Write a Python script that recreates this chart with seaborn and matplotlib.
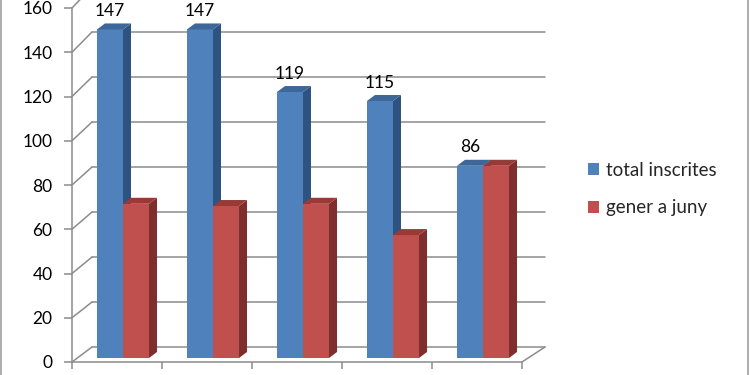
import matplotlib
matplotlib.use("Agg")
import matplotlib.pyplot as plt
from matplotlib.patches import Polygon
from matplotlib.lines import Line2D
import seaborn as sns
import pandas as pd
import numpy as np

# ---- data ----
categories = ["1", "2", "3", "4", "5"]
series_names = ["total inscrites", "gener a juny"]
total_inscrites = [147, 147, 119, 115, 86]
gener_a_juny = [69, 68, 69, 55, 86]
y_ticks = [0, 20, 40, 60, 80, 100, 120, 140, 160]

front_colors = ["#4F81BD", "#C0504D"]
side_colors = ["#2F5381", "#7E2E2C"]
top_colors = ["#3C6798", "#9A3A37"]

df = pd.DataFrame({
    "cat": categories * 2,
    "serie": [series_names[0]] * 5 + [series_names[1]] * 5,
    "val": total_inscrites + gener_a_juny,
})

sns.set_theme(style="white")
plt.rcParams["font.family"] = ["Lato", "DejaVu Sans"]

W, H = 750, 375
fig = plt.figure(figsize=(7.5, 3.75), dpi=100)

def px_rect(left, right, bottom_from_top, height_px):
    b = (H - bottom_from_top) / H
    return [left / W, b, (right - left) / W, height_px / H]

grid_col = "#8C8C8C"
tick_fs = 12.5
leg_fs = 13.5

# back wall grid
ax_back = fig.add_axes(px_rect(92, 545, 347, 160 * 2.25))
ax_back.set_xlim(-0.5, 4.5)
ax_back.set_ylim(0, 160)
for v in y_ticks:
    ax_back.axhline(v, color=grid_col, lw=1.1, clip_on=False)
ax_back.set_xticks([]); ax_back.set_yticks([])
for s in ax_back.spines.values():
    s.set_visible(False)
ax_back.patch.set_alpha(0)

# front axis (ticks & labels)
ax_front = fig.add_axes(px_rect(72, 522, 362, 160 * 2.2125))
ax_front.set_xlim(-0.5, 4.5)
ax_front.set_ylim(0, 160)
ax_front.set_yticks(y_ticks)
ax_front.set_yticklabels([str(v) for v in y_ticks], fontsize=tick_fs, color="black")
ax_front.set_xticks(np.arange(-0.5, 5.0, 1.0))
ax_front.set_xticklabels([])
ax_front.tick_params(axis="y", left=True, length=6, width=1.1, color=grid_col, pad=8)
ax_front.tick_params(axis="x", bottom=True, length=5, width=1.1, color=grid_col)
for side in ["top", "right"]:
    ax_front.spines[side].set_visible(False)
for side in ["left", "bottom"]:
    ax_front.spines[side].set_color(grid_col)
    ax_front.spines[side].set_linewidth(1.1)
ax_front.patch.set_alpha(0)
ax_front.set_zorder(1)

# bars
ax_bar = fig.add_axes(px_rect(78, 528, 358, 160 * 2.235))
sns.barplot(data=df, x="cat", y="val", hue="serie", hue_order=series_names,
            palette=front_colors, width=0.578, gap=0, saturation=1,
            edgecolor="none", linewidth=0, ax=ax_bar, legend=True)
ax_bar.set_xlim(-0.5, 4.5)
ax_bar.set_ylim(0, 160)
ax_bar.patch.set_alpha(0)
ax_bar.set_zorder(2)
for s in ax_bar.spines.values():
    s.set_visible(False)
ax_bar.set_xticks([]); ax_bar.set_yticks([])
ax_bar.set_xlabel(""); ax_bar.set_ylabel("")

fig.canvas.draw()

# 3D faces
dx, dy = 8, 6  # display pixels (y up)
bars = []
for si, cont in enumerate(ax_bar.containers):
    for p in cont.patches:
        bars.append((p.get_x(), si, p))
bars.sort(key=lambda t: t[0])
inv = ax_bar.transData.inverted()
for k, (xx, si, p) in enumerate(bars):
    z = 10 + 2 * k
    p.set_zorder(z)
    (x0, y0), (x1, y1) = ax_bar.transData.transform(
        [(p.get_x(), 0), (p.get_x() + p.get_width(), p.get_height())])
    side = [(x1, y0), (x1 + dx, y0 + dy), (x1 + dx, y1 + dy), (x1, y1)]
    top = [(x0, y1), (x1, y1), (x1 + dx, y1 + dy), (x0 + dx, y1 + dy)]
    ax_bar.add_patch(Polygon(inv.transform(side), closed=True, facecolor=side_colors[si],
                             edgecolor="none", zorder=z + 1, clip_on=False))
    ax_bar.add_patch(Polygon(inv.transform(top), closed=True, facecolor=top_colors[si],
                             edgecolor="none", zorder=z + 1, clip_on=False))

# value labels on blue bars
for p, v in zip(ax_bar.containers[0].patches, total_inscrites):
    ax_bar.annotate(str(v), (p.get_x() + p.get_width() / 2, v),
                    xytext=(0, 7.5), textcoords="offset points",
                    ha="center", va="bottom", fontsize=tick_fs, color="black",
                    zorder=50, annotation_clip=False)

# diagonal connectors (left wall and right floor edge)
for v in y_ticks:
    fp = ax_front.transData.transform((-0.5, v))
    bp = ax_back.transData.transform((-0.5, v))
    fig.add_artist(Line2D([fp[0], bp[0]], [fp[1], bp[1]], transform=None,
                          color=grid_col, lw=1.1))
fp = ax_front.transData.transform((4.5, 0))
bp = ax_back.transData.transform((4.5, 0))
fig.add_artist(Line2D([fp[0], bp[0]], [fp[1], bp[1]], transform=None,
                      color=grid_col, lw=1.1))

# legend
leg = ax_bar.get_legend()
handles = leg.legend_handles
leg.remove()
fig.legend(handles, series_names, loc="center left",
           bbox_to_anchor=(588 / W, 1 - 189 / H), frameon=False,
           fontsize=leg_fs, handlelength=0.6, handleheight=0.6,
           handletextpad=0.35, labelspacing=1.1, borderaxespad=0, borderpad=0)

# chart border (left & right only)
fig.add_artist(Line2D([1.0 / W, 1.0 / W], [0, 1], color="#A0A0A0", lw=1.2))
fig.add_artist(Line2D([748 / W, 748 / W], [0, 1], color="#A0A0A0", lw=1.2))

fig.savefig("out.png", dpi=100, facecolor="white")
